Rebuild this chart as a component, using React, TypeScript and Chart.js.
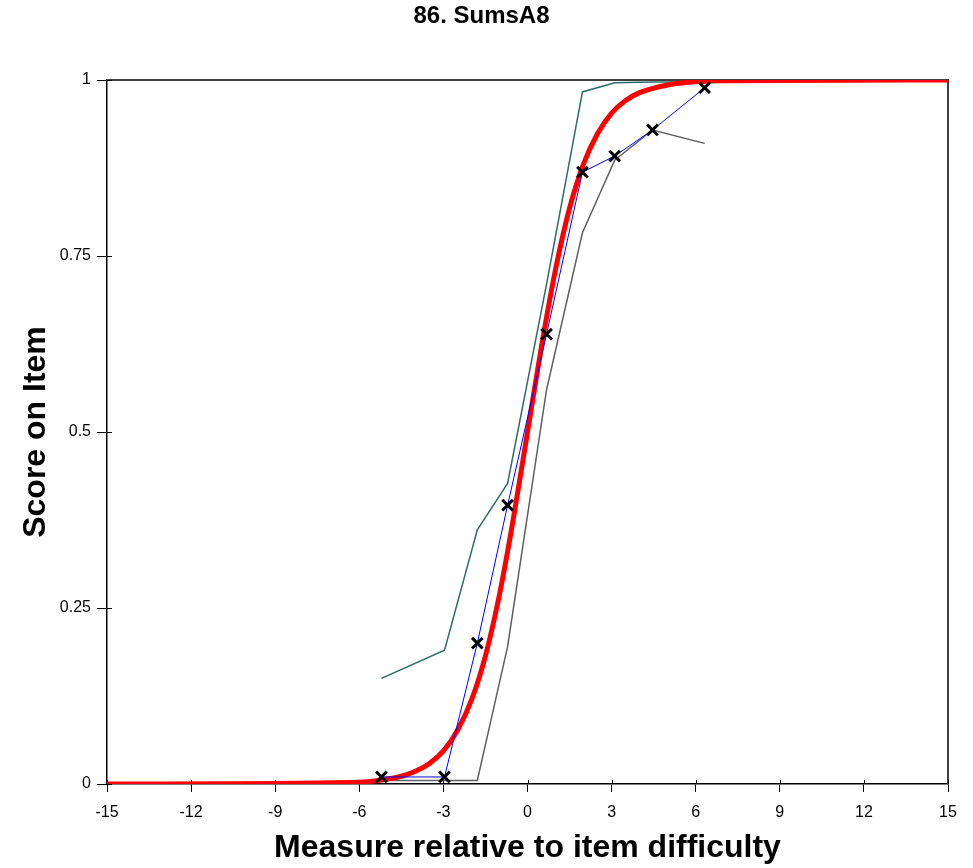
import React, { useEffect, useRef } from "react";
import { Chart, registerables } from "chart.js";

Chart.register(...registerables);

const CHART_TITLE = "86. SumsA8";
const X_TITLE = "Measure relative to item difficulty";
const Y_TITLE = "Score on Item";

const xTickValues = [-15, -12, -9, -6, -3, 0, 3, 6, 9, 12, 15];
const yTickValues = [0, 0.25, 0.5, 0.75, 1];
const yTickLabels = ["0", "0.25", "0.5", "0.75", "1"];

// empirical (observed) points
const obsX = [-5.21, -2.96, -1.79, -0.71, 0.68, 1.96, 3.11, 4.46, 6.32];
const obsY = [0.01, 0.01, 0.2, 0.396, 0.639, 0.869, 0.892, 0.929, 0.989];
// upper and lower confidence lines
const upperY = [0.15, 0.19, 0.361, 0.427, 0.71, 0.983, 0.996, 0.997, 0.997];
const lowerY = [0.005, 0.005, 0.005, 0.195, 0.56, 0.783, 0.886, 0.929, 0.91];

// model expected score curve
const modelX = [-15, -6, -5, -4.5, -4, -3.5, -3, -2.5, -2, -1.5, -1, -0.5, 0, 0.5, 1, 1.5, 2, 2.5, 3, 3.5, 4, 5, 6, 7, 15];
const modelY = [0.0, 0.0025, 0.007, 0.011, 0.018, 0.029, 0.047, 0.076, 0.119, 0.182, 0.269, 0.378, 0.5, 0.622, 0.731, 0.818, 0.881, 0.924, 0.953, 0.971, 0.982, 0.993, 0.9975, 0.999, 1.0];

const FONT = "'Liberation Sans', Arial, sans-serif";

const pts = (xs: number[], ys: number[]) => xs.map((x, i) => ({ x, y: ys[i] }));

const framePlugin = {
  id: "frame",
  beforeDatasetsDraw(chart: any) {
    const { ctx, chartArea } = chart;
    const { left, right, top, bottom } = chartArea;
    ctx.save();
    ctx.strokeStyle = "#404040";
    ctx.lineWidth = 2;
    ctx.beginPath();
    ctx.moveTo(left, top);
    ctx.lineTo(right, top);
    ctx.lineTo(right, bottom);
    ctx.stroke();
    // inner parts of tick marks
    ctx.strokeStyle = "#000";
    ctx.lineWidth = 1;
    const xs = chart.scales.x;
    xs.ticks.forEach((t: any) => {
      const px = Math.round(xs.getPixelForValue(t.value)) + 0.5;
      ctx.beginPath();
      ctx.moveTo(px, bottom - 4);
      ctx.lineTo(px, bottom);
      ctx.stroke();
    });
    const ys = chart.scales.y;
    ys.ticks.forEach((t: any) => {
      const py = Math.round(ys.getPixelForValue(t.value)) + 0.5;
      ctx.beginPath();
      ctx.moveTo(left, py);
      ctx.lineTo(left + 5, py);
      ctx.stroke();
    });
    ctx.restore();
  },
};

export default function App() {
  const ref = useRef<HTMLCanvasElement | null>(null);

  useEffect(() => {
    if (!ref.current) return;
    const chart = new Chart(ref.current, {
      type: "line",
      data: {
        datasets: [
          {
            label: "observed",
            data: pts(obsX, obsY),
            borderColor: "#0000ff",
            borderWidth: 1,
            pointStyle: "crossRot",
            pointRadius: 7.5,
            pointBorderWidth: 3,
            pointBorderColor: "#000",
            pointBackgroundColor: "#000",
            pointHoverRadius: 7.5,
            order: 1,
          },
          {
            label: "model",
            data: pts(modelX, modelY),
            borderColor: "#ff0000",
            borderWidth: 5,
            pointRadius: 0,
            cubicInterpolationMode: "monotone",
            clip: 0,
            order: 2,
          },
          {
            label: "lower",
            data: pts(obsX, lowerY),
            borderColor: "#606060",
            borderWidth: 1.5,
            pointRadius: 0,
            order: 3,
          },
          {
            label: "upper",
            data: pts(obsX, upperY),
            borderColor: "#2d6d68",
            borderWidth: 1.5,
            pointRadius: 0,
            order: 4,
          },
        ],
      },
      options: {
        animation: false,
        responsive: false,
        maintainAspectRatio: false,
        events: [],
        layout: { padding: { left: 15, right: 25, top: 0, bottom: 0 } },
        plugins: {
          legend: { display: false },
          tooltip: { enabled: false },
          title: {
            display: true,
            text: CHART_TITLE,
            color: "#000",
            font: { family: FONT, size: 24, weight: "bold" },
            padding: { top: 2, bottom: 49.2 },
          },
        },
        scales: {
          x: {
            type: "linear",
            min: -15,
            max: 15,
            afterBuildTicks: (s: any) => {
              s.ticks = xTickValues.map((v) => ({ value: v }));
            },
            afterFit: (s: any) => {
              s.height = 84;
            },
            ticks: {
              color: "#000",
              font: { family: FONT, size: 16 },
              padding: 11,
              maxRotation: 0,
              autoSkip: false,
              callback: (v: any) => String(v),
            },
            grid: {
              display: true,
              drawOnChartArea: false,
              drawTicks: true,
              tickLength: 8,
              color: "#000",
            },
            border: { display: true, color: "#000", width: 1.5 },
            title: {
              display: true,
              text: X_TITLE,
              color: "#000",
              font: { family: FONT, size: 32, weight: "bold" },
              padding: { top: 0, bottom: 1 },
            },
          },
          y: {
            type: "linear",
            min: 0,
            max: 1,
            afterBuildTicks: (s: any) => {
              s.ticks = yTickValues.map((v) => ({ value: v }));
            },
            afterFit: (s: any) => {
              s.width = 92;
            },
            ticks: {
              color: "#000",
              font: { family: FONT, size: 16 },
              padding: 6,
              autoSkip: false,
              callback: (v: any) => {
                const i = yTickValues.indexOf(Number(v));
                return i >= 0 ? yTickLabels[i] : "";
              },
            },
            grid: {
              display: true,
              drawOnChartArea: false,
              drawTicks: true,
              tickLength: 10,
              color: "#000",
            },
            border: { display: true, color: "#000", width: 1.5 },
            title: {
              display: true,
              text: Y_TITLE,
              color: "#000",
              font: { family: FONT, size: 32, weight: "bold" },
              padding: { top: 2, bottom: 0 },
            },
          },
        },
      },
      plugins: [framePlugin],
    } as any);
    return () => chart.destroy();
  }, []);

  return (
    <div style={{ position: "fixed", left: 0, top: 0, width: 973, height: 868, background: "#fff" }}>
      <canvas ref={ref} width={973} height={868} style={{ display: "block" }} />
    </div>
  );
}
